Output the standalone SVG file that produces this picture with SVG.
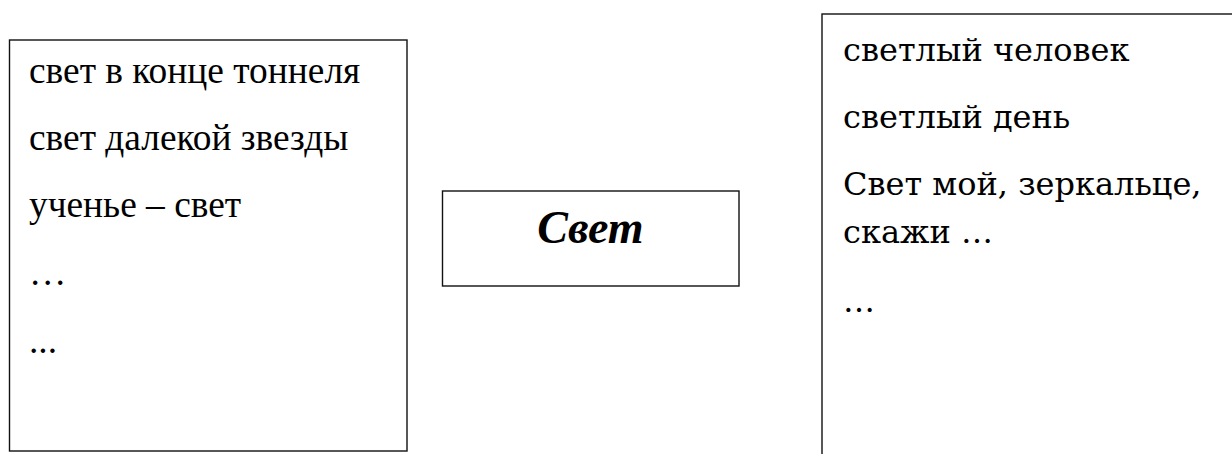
<svg xmlns="http://www.w3.org/2000/svg" width="1232" height="454" viewBox="0 0 1232 454">
<style>
.box{fill:#fff;stroke:#111;stroke-width:1.4}
.t{font-family:"Liberation Serif","Times New Roman",serif;font-size:37.4px;fill:#000}
.c{font-family:"DejaVu Serif","Liberation Serif",serif;font-size:32px;fill:#000}
.m{font-family:"Liberation Serif","Times New Roman",serif;font-size:46px;font-weight:bold;font-style:italic;fill:#000}
</style>
<rect width="1232" height="454" fill="#fff"/>
<g id="connectors"></g>
<g id="left">
<rect class="box" x="9.5" y="40" width="397.5" height="411"/>
<text class="t" x="29" y="83">свет в конце тоннеля</text>
<text class="t" x="29" y="150">свет далекой звезды</text>
<text class="t" x="29" y="217">ученье – свет</text>
<text class="t" x="29" y="285">…</text>
<text class="t" x="29" y="353">...</text>
</g>
<g id="center">
<rect class="box" x="442.5" y="191" width="296.5" height="95"/>
<text class="m" x="590.5" y="243" text-anchor="middle">Свет</text>
</g>
<g id="right">
<rect class="box" x="822" y="14" width="430" height="460"/>
<text class="c" x="843" y="61">светлый человек</text>
<text class="c" x="843" y="128">светлый день</text>
<text class="c" x="843" y="195">Свет мой, зеркальце,</text>
<text class="c" x="843" y="243">скажи …</text>
<text class="c" x="843" y="312">…</text>
</g>
</svg>
